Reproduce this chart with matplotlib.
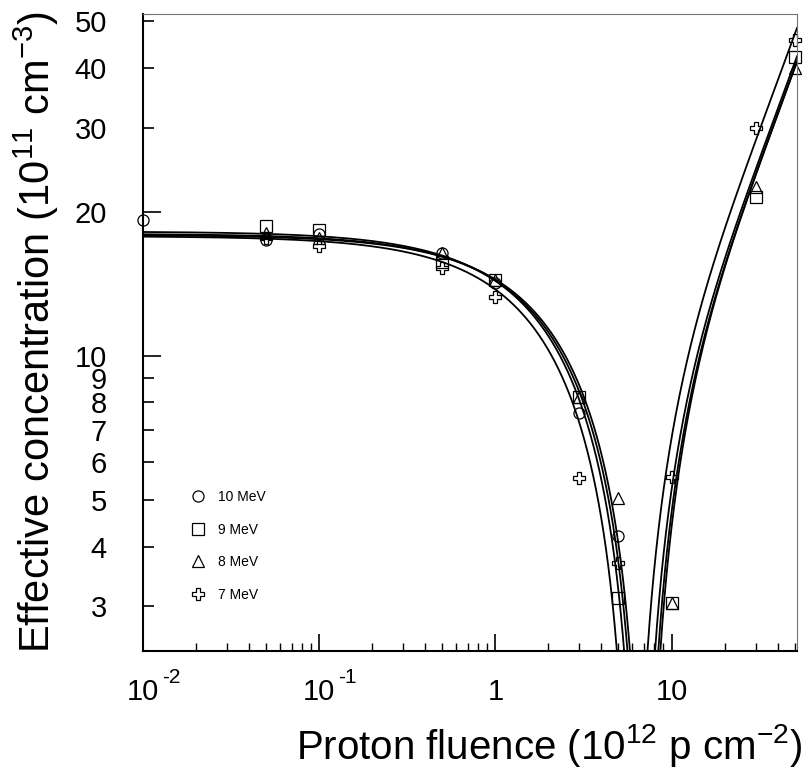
import numpy as np
import matplotlib
matplotlib.use("Agg")
import matplotlib.pyplot as plt
from matplotlib.ticker import FixedLocator, FixedFormatter, NullFormatter

plt.rcParams['font.family'] = ['Liberation Sans', 'DejaVu Sans']
plt.rcParams['mathtext.fontset'] = 'custom'
plt.rcParams['mathtext.rm'] = 'Liberation Sans'
plt.rcParams['mathtext.it'] = 'Liberation Sans:italic'

# fluence points (1e12 p/cm2)
fluence = np.array([0.01, 0.05, 0.1, 0.5, 1, 3, 5, 10, 30, 50])
nan = np.nan
# effective concentration (1e11 cm-3)
n_10mev = np.array([19.2, 17.5, 18.0, 16.4, 14.2, 7.6, 4.2, nan, nan, nan])
n_9mev = np.array([nan, 18.7, 18.3, 15.7, 14.4, 8.2, 3.12, 3.05, 21.5, 42.1])
n_8mev = np.array([nan, 18.1, 17.6, 16.4, 14.4, 8.2, 5.06, 3.05, 22.5, 39.9])
n_7mev = np.array([nan, 17.6, 17.0, 15.3, 13.3, 5.56, 3.70, 5.58, 29.9, 45.7])

labels = ['10 MeV', '9 MeV', '8 MeV', '7 MeV']
markers = ['o', 's', '^', 'P']

# fit parameters  N = N0*exp(-c*phi) - g*phi
fit_N0 = [17.9, 18.2, 18.0, 17.8]
fit_c = [0.160, 0.182, 0.170, 0.190]
fit_g = [0.80, 0.82, 0.80, 0.94]

# x tick labels: base and exponent
xt_pos = [0.01, 0.1, 1, 10]
xt_base = ['10', '10', '1', '10']
xt_exp = ['-2', '-1', '', '']

fig = plt.figure(figsize=(8.05, 7.71), dpi=100)
ax = fig.add_axes([0.1776, 0.1556, 0.8124, 0.8262])

phi = np.geomspace(0.01, 52, 4000)
for N0, c, g in zip(fit_N0, fit_c, fit_g):
    neff = np.abs(N0*np.exp(-c*phi) - g*phi)
    ax.plot(phi, neff, 'k-', lw=1.3)

handles = []
for y, m, lab in zip([n_10mev, n_9mev, n_8mev, n_7mev], markers, labels):
    h, = ax.plot(fluence, y, ls='none', marker=m, ms=8, mfc='none',
                 mec='k', mew=0.9, label=lab, clip_on=False)
    handles.append(h)

ax.set_xscale('log')
ax.set_yscale('log')
ax.set_xlim(0.01, 51.5)
ax.set_ylim(2.42, 51.8)

# x ticks
ax.xaxis.set_major_locator(FixedLocator(xt_pos))
ax.xaxis.set_minor_locator(FixedLocator(
    [k*10.0**e for e in range(-2, 2) for k in range(2, 10)]))
ax.xaxis.set_minor_formatter(NullFormatter())
ax.tick_params(axis='x', which='major', direction='in', length=12, width=1.2,
               labelbottom=False, top=False)
ax.tick_params(axis='x', which='minor', direction='in', length=6, width=1.0,
               top=False)
trans = ax.get_xaxis_transform()
for x, b, e in zip(xt_pos, xt_base, xt_exp):
    ax.text(x, -0.077, b, transform=trans, ha='center', va='baseline',
            fontsize=21)
    if e:
        ax.annotate(e, xy=(x, -0.077), xycoords=trans, xytext=(14, 12),
                    textcoords='offset points', ha='left', va='baseline',
                    fontsize=15)

# y ticks
ax.yaxis.set_major_locator(FixedLocator([10, 20]))
ax.yaxis.set_major_formatter(FixedFormatter(['10', '20']))
ax.yaxis.set_minor_locator(FixedLocator([3, 4, 5, 6, 7, 8, 9, 30, 40, 50]))
ax.yaxis.set_minor_formatter(FixedFormatter(['3', '4', '5', '6', '7', '8', '9',
                                             '30', '40', '50']))
ax.tick_params(axis='y', which='major', direction='in', length=13, width=1.2,
               labelsize=21, pad=26, right=False)
ax.tick_params(axis='y', which='minor', direction='in', length=8, width=1.2,
               labelsize=21, pad=26, right=False)

ax.spines['left'].set_linewidth(1.5)
ax.spines['bottom'].set_linewidth(1.5)
ax.spines['top'].set_color('0.45')
ax.spines['right'].set_color('0.45')

ax.set_ylabel(r'Effective concentration $\mathregular{(10^{11}\ cm^{-3})}$',
              fontsize=30)
ax.yaxis.set_label_coords(-0.125, 0.5)
ax.set_xlabel(r'Proton fluence $\mathregular{(10^{12}\ p\ cm^{-2})}$',
              fontsize=29, ha='right')
ax.xaxis.set_label_coords(1.008, -0.112)

ax.legend(handles=handles, loc='center left', bbox_to_anchor=(0.055, 0.165),
          frameon=False, fontsize=10, handlelength=1.0, handletextpad=0.9,
          labelspacing=1.35, numpoints=1)

fig.savefig('out.png', dpi=100)
